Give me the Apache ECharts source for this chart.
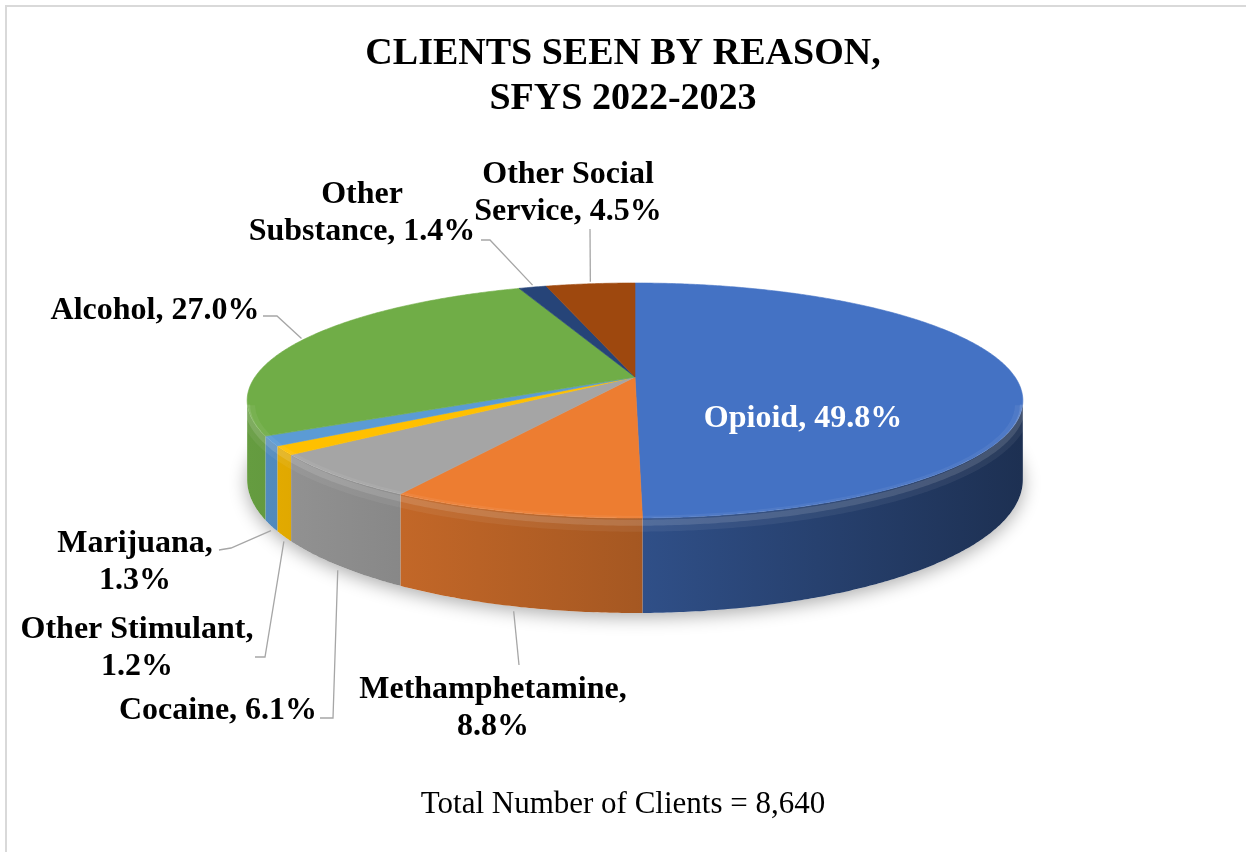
<!DOCTYPE html>
<html>
<head>
<meta charset="utf-8">
<script src="https://cdn.jsdelivr.net/npm/echarts@6/dist/echarts.min.js"></script>
<style>
html,body{margin:0;padding:0;background:#fff;}
#chart{width:1246px;height:852px;}
</style>
</head>
<body>
<div id="chart"></div>
<script>
// ---- data ----
const categories = ['Opioid', 'Methamphetamine', 'Cocaine', 'Other Stimulant', 'Marijuana', 'Alcohol', 'Other Substance', 'Other Social Service'];
const percents = [49.8, 8.8, 6.1, 1.2, 1.3, 27.0, 1.4, 4.5];
const labelNames = ['Opioid, ', 'Methamphetamine,\n', 'Cocaine, ', 'Other Stimulant,\n', 'Marijuana,\n', 'Alcohol, ', 'Other\nSubstance, ', 'Other Social\nService, '];
const titleText = 'CLIENTS SEEN BY REASON,\nSFYS 2022-2023';
const footerText = 'Total Number of Clients = 8,640';

// ---- layout / style ----
const colors = ['#4472C4', '#ED7D31', '#A5A5A5', '#FFC000', '#5B9BD5', '#70AD47', '#264478', '#9E480E'];
const labelPos = [[803, 419], [493, 708], [218, 711], [137, 648], [135, 562], [155, 311], [362, 213], [568, 193]];
const labelLinePts = [null, [[519, 665]], [[320, 718], [333, 718]], [[255, 657], [265, 657]], [[219, 550], [231, 548]], [[263, 316], [277, 316]], [[481, 240], [490, 240]], [[590, 229]]];
const labelColors = ['#FFFFFF', '#000', '#000', '#000', '#000', '#000', '#000', '#000'];
const CX = 635, CY = 377, A = 380, B = 112.8, K = 0.2, T = 76;
const FONT = 'Liberation Serif, Times New Roman, serif';

function proj(phi, dz) {
  const u = Math.sin(phi), v = -Math.cos(phi), w = 1 - K * v;
  return [CX + A * u / w, CY + (B * v + T * dz) / w];
}
function arc(a0, a1, dz) {
  const n = Math.max(2, Math.ceil((a1 - a0) / (Math.PI / 360)));
  const pts = [];
  for (let k = 0; k <= n; k++) pts.push(proj(a0 + (a1 - a0) * k / n, dz));
  return pts;
}
function shade(hex, f) {
  const r = parseInt(hex.slice(1, 3), 16), g = parseInt(hex.slice(3, 5), 16), b = parseInt(hex.slice(5, 7), 16);
  return 'rgb(' + Math.min(255, Math.round(r * f)) + ',' + Math.min(255, Math.round(g * f)) + ',' + Math.min(255, Math.round(b * f)) + ')';
}
const total = percents.reduce((s, v) => s + v, 0);
const cum = [0];
percents.forEach(v => cum.push(cum[cum.length - 1] + v));
const SIL0 = Math.acos(-K), SIL1 = Math.PI * 2 - Math.acos(-K);

function renderItem(params, api) {
  const i = params.dataIndex;
  const val = api.value(1);
  const a0 = cum[i] / total * Math.PI * 2;
  const a1 = (cum[i] + val) / total * Math.PI * 2;
  const col = colors[i];
  const children = [];
  if (i === 0) {
    children.push({
      type: 'polygon', shape: { points: arc(0, Math.PI * 2, 1) },
      style: { fill: '#fff', shadowBlur: 18, shadowColor: 'rgba(0,0,0,0.33)', shadowOffsetY: 4 },
      z2: 0, silent: true
    });
  }
  const lo = Math.max(a0, SIL0), hi = Math.min(a1, SIL1);
  if (lo < hi) {
    const pts = arc(lo, hi, 0).concat(arc(lo, hi, 1).reverse());
    children.push({
      type: 'polygon', shape: { points: pts },
      style: {
        fill: { type: 'linear', x: 247, y: 0, x2: 1022, y2: 0, global: true,
          colorStops: [{ offset: 0, color: shade(col, 0.9) }, { offset: 0.5, color: shade(col, 0.7) }, { offset: 1, color: shade(col, 0.42) }] }
      },
      z2: 1
    });
    // rounded bevel highlight along the front rim
    children.push({
      type: 'polyline', shape: { points: arc(lo, hi, 0.06) },
      style: { stroke: 'rgba(255,255,255,0.06)', lineWidth: 16, fill: null },
      z2: 6, silent: true
    });
    children.push({
      type: 'polyline', shape: { points: arc(lo, hi, 0.05) },
      style: { stroke: 'rgba(255,255,255,0.12)', lineWidth: 6, fill: null },
      z2: 7, silent: true
    });
  }
  children.push({
    type: 'polygon', shape: { points: [[CX, CY]].concat(arc(a0, a1, 0)) },
    style: { fill: col, stroke: col, lineWidth: 0.6 },
    z2: 5
  });
  // label
  const m = (a0 + a1) / 2;
  const txt = labelNames[i] + val.toFixed(1) + '%';
  children.push({
    type: 'text', z2: 20, silent: true,
    style: { text: txt, x: labelPos[i][0], y: labelPos[i][1], fill: labelColors[i],
      fontFamily: FONT, fontSize: 32, fontWeight: 'bold', align: 'center', verticalAlign: 'middle', lineHeight: 37 }
  });
  if (labelLinePts[i]) {
    const v = -Math.cos(m);
    let e;
    if (v > 0.05) { e = proj(m, 1); e = [e[0], e[1] + 5]; }
    else { e = proj(m, 0); e = [e[0], e[1] - 2]; }
    children.push({
      type: 'polyline', z2: 20, silent: true,
      shape: { points: labelLinePts[i].concat([e]) },
      style: { stroke: '#A6A6A6', lineWidth: 1.3, fill: null }
    });
  }
  return { type: 'group', children: children };
}

const chart = echarts.init(document.getElementById('chart'));
chart.setOption({
  animation: false,
  backgroundColor: '#fff',
  title: [{
    text: titleText, left: 'center', top: 27,
    textStyle: { fontFamily: FONT, fontSize: 38, fontWeight: 'bold', color: '#000', lineHeight: 45 }
  }, {
    text: footerText, left: 'center', top: 784,
    textStyle: { fontFamily: FONT, fontSize: 31, fontWeight: 'normal', color: '#000' }
  }],
  graphic: [{
    type: 'rect', shape: { x: 6, y: 6, width: 1400, height: 1000 },
    style: { fill: null, stroke: '#D9D9D9', lineWidth: 2 }, silent: true
  }],
  series: [{
    type: 'custom',
    coordinateSystem: 'none',
    renderItem: renderItem,
    data: percents.map((v, i) => ({ name: categories[i], value: [i, v] }))
  }]
});
</script>
</body>
</html>
